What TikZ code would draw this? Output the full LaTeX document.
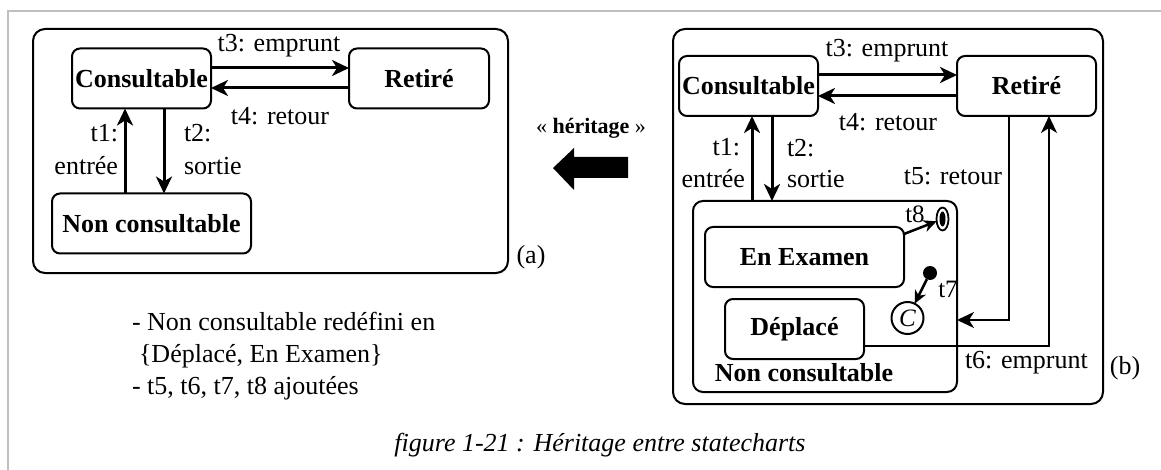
\documentclass[tikz,border=0pt]{standalone}
\usepackage{fontspec}
\setmainfont{Liberation Serif}
\usetikzlibrary{arrows.meta,shapes.geometric}
\begin{document}
\begin{tikzpicture}[x=1pt,y=-1pt,
  every node/.style={inner sep=0pt, outer sep=0pt},
  txt/.style={font=\fontsize{26}{31}\selectfont},
  smalltxt/.style={font=\fontsize{25}{29}\selectfont},
  state/.style={draw, line width=2pt, rectangle, rounded corners=8pt,
    font=\fontsize{26}{31}\selectfont\bfseries, minimum height=60pt},
  region/.style={draw, line width=2pt, rectangle, rounded corners=12pt},
  tr/.style={line width=3pt, -{Stealth[length=17pt,width=16pt,inset=5pt]}},
  trthin/.style={line width=2pt, -{Stealth[length=17pt,width=16pt,inset=5pt]}},
  trsmall/.style={line width=2.5pt, -{Stealth[length=13pt,width=12pt,inset=4pt]}},
  frameline/.style={draw=black!25, line width=2.5pt}
]
\useasboundingbox (0,0) rectangle (1161,470);

% page frame
\draw[frameline] (8,470) -- (8,11) -- (1161,11);

% ---------------- (a) parent statechart ----------------
\node[region, minimum width=475pt, minimum height=244pt] (outA) at (270.5,151) {};
\node[state, minimum width=139pt] (consA) at (141.5,78.5) {Consultable};
\node[state, minimum width=140pt] (retA) at (419,78.5) {Retiré};
\node[state, minimum width=199pt] (ncA) at (151.5,223.5) {Non consultable};

\draw[tr] ([yshift=10.5pt]consA.east) -- ([yshift=10.5pt]retA.west);
\draw[tr] ([yshift=-9.5pt]retA.west) -- ([yshift=-9.5pt]consA.east);
\draw[tr] ([xshift=-26.5pt]ncA.north) -- ([xshift=-26.5pt]ncA.north |- consA.south);
\draw[tr] ([xshift=22.5pt]consA.south) -- ([xshift=22.5pt]consA.south |- ncA.north);

\node[txt, anchor=base] (lt3a) at (279,52) {t3: emprunt};
\node[txt, anchor=base] (lt4a) at (280,125) {t4: retour};
\node[txt, anchor=base east] (lt1a) at (118,142) {t1:};
\node[txt, anchor=base east] (lt1ab) at (118,175) {entrée};
\node[txt, anchor=base west] (lt2a) at (184,142) {t2:};
\node[txt, anchor=base west] (lt2ab) at (184,175) {sortie};
\node[txt] (tagA) at (531,257) {(a)};

% ---------------- inheritance ----------------
\node[font=\fontsize{22}{26}\selectfont] (herit) at (591,128) {« \textbf{héritage} »};
\fill (553,168) -- (574,148) -- (574,157) -- (628,157) -- (628,178)
      -- (574,178) -- (574,190) -- cycle;

% ---------------- (b) derived statechart ----------------
\node[region, minimum width=430pt, minimum height=375pt] (outB) at (888,216.5) {};
\node[state, minimum width=139pt] (consB) at (748.5,86) {Consultable};
\node[state, minimum width=139pt] (retB) at (1026.5,86) {Retiré};
\node[region, rounded corners=10pt, minimum width=264pt, minimum height=191pt] (ncB) at (825,296.5) {};
\node[state, minimum width=199pt] (exam) at (804.5,257) {En Examen};
\node[state, minimum width=139pt] (depl) at (794.5,329) {Déplacé};
\node[txt, font=\fontsize{26}{31}\selectfont\bfseries, anchor=base] (ncBl) at (804,381) {Non consultable};

% pseudo-states
\node[ellipse, draw, line width=1.8pt, fill=white, minimum width=12pt, minimum height=23pt] (fin) at (942.5,219) {};
\node[ellipse, fill, minimum width=6pt, minimum height=15pt] (finin) at (fin.center) {};
\node[circle, fill, minimum size=14pt] (ini) at (930,273) {};
\node[circle, draw, line width=2pt, minimum size=32pt,
      font=\fontsize{25}{29}\selectfont\itshape] (hist) at (907.5,318) {C};

\draw[tr] ([yshift=11pt]consB.east) -- ([yshift=11pt]retB.west);
\draw[tr] ([yshift=-10pt]retB.west) -- ([yshift=-10pt]consB.east);
\draw[tr] ([xshift=-73pt]ncB.north) -- ([xshift=-73pt]ncB.north |- consB.south);
\draw[tr] ([xshift=23.5pt]consB.south) -- ([xshift=23.5pt]consB.south |- ncB.north);
\draw[trthin] ([xshift=-17.5pt]retB.south) |- ([yshift=-23.5pt]ncB.east);
\draw[trthin] ([yshift=-17pt]depl.east) -| ([xshift=22.5pt]retB.south);
\draw[trsmall] ([yshift=-7pt]exam.north east) -- (fin);
\draw[trsmall] (ini) -- (hist);

\node[txt, anchor=base] (lt3b) at (887,57) {t3: emprunt};
\node[txt, anchor=base] (lt4b) at (888,131) {t4: retour};
\node[txt, anchor=base east] (lt1b) at (740,156) {t1:};
\node[txt, anchor=base east] (lt1bb) at (745,188) {entrée};
\node[txt, anchor=base west] (lt2b) at (787,157) {t2:};
\node[txt, anchor=base west] (lt2bb) at (787,188) {sortie};
\node[txt, anchor=base east] (lt5) at (1002,185) {t5: retour};
\node[txt, anchor=base west] (lt6) at (965,368) {t6: emprunt};
\node[smalltxt] (lt8) at (915,214) {t8};
\node[smalltxt] (lt7) at (948,289) {t7};
\node[txt] (tagB) at (1125,368) {(b)};

% ---------------- notes and caption ----------------
\node[txt, anchor=base west] (n1) at (132,330) {- Non consultable redéfini en};
\node[txt, anchor=base west] (n2) at (139,362) {\{Déplacé, En Examen\}};
\node[txt, anchor=base west] (n3) at (132,394) {- t5, t6, t7, t8 ajoutées};
\node[txt, font=\fontsize{26}{31}\selectfont\itshape] (cap) at (600,445) {figure 1-21 : Héritage entre statecharts};
\end{tikzpicture}
\end{document}
